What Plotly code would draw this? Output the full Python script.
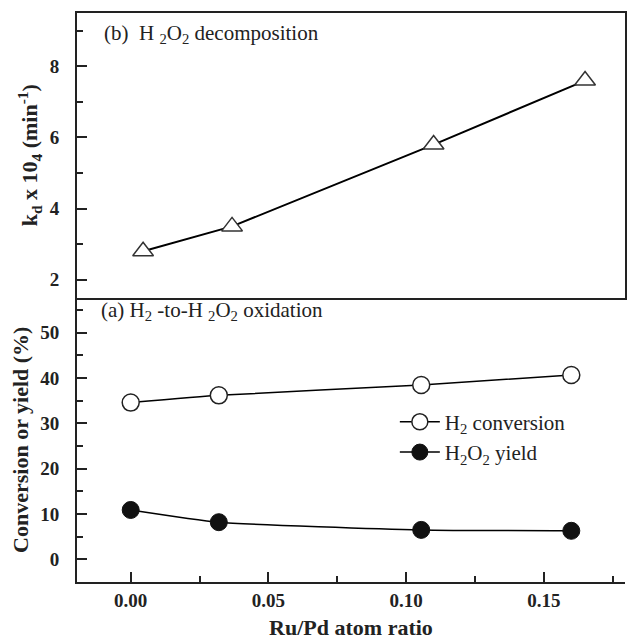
import plotly.graph_objects as go

# Data
kd_x = [0.0045, 0.0368, 0.110, 0.165]
kd_y = [2.8, 3.5, 5.8, 7.6]

conv_x = [0.000, 0.032, 0.1055, 0.160]
conv_y = [34.6, 36.2, 38.5, 40.7]

yield_x = [0.000, 0.032, 0.1055, 0.160]
yield_y = [10.9, 8.2, 6.5, 6.3]

x_ticks = [0, 0.05, 0.10, 0.15]
x_ticklabels = ["0.00", "0.05", "0.10", "0.15"]
y_ticks = [0, 10, 20, 30, 40, 50]
y2_ticks = [2, 4, 6, 8]

FONT = "Liberation Serif"
INK = "#222"

fig = go.Figure()

fig.add_trace(go.Scatter(
    x=kd_x, y=kd_y, xaxis="x2", yaxis="y2", mode="lines+markers",
    line=dict(color="black", width=2),
    marker=dict(symbol="triangle-up", size=18, color="white",
                line=dict(color="#333", width=1.5)),
    showlegend=False))

fig.add_trace(go.Scatter(
    x=conv_x, y=conv_y, xaxis="x", yaxis="y", mode="lines+markers",
    name="H<sub>2</sub> conversion",
    line=dict(color="black", width=1.5, shape="spline", smoothing=0.4),
    marker=dict(symbol="circle", size=17, color="white",
                line=dict(color=INK, width=1.5))))

fig.add_trace(go.Scatter(
    x=yield_x, y=yield_y, xaxis="x", yaxis="y", mode="lines+markers",
    name="H<sub>2</sub>O<sub>2</sub> yield",
    line=dict(color="black", width=1.5, shape="spline", smoothing=0.5),
    marker=dict(symbol="circle", size=17, color="#111",
                line=dict(color="#111", width=1))))

tickfont = dict(family=FONT, size=19, color=INK)
titlefont = dict(family=FONT, size=22, color=INK)
textfont = dict(family=FONT, size=21, color=INK)

def bold(vals):
    return ["<b>%s</b>" % v for v in vals]

fig.update_layout(
    width=627, height=640,
    margin=dict(l=77, r=0, t=13, b=57),
    paper_bgcolor="white", plot_bgcolor="white",
    font=dict(family=FONT, color=INK),
    xaxis=dict(domain=[0, 1], anchor="y", range=[-0.0195, 0.1795],
               tickvals=x_ticks, ticktext=bold(x_ticklabels),
               ticks="inside", ticklen=10, tickwidth=2, tickcolor=INK,
               minor=dict(tickvals=[0.025, 0.075, 0.125, 0.175], ticks="inside",
                          ticklen=6, tickwidth=2, tickcolor=INK),
               showline=True, linewidth=2, linecolor=INK, showgrid=False, zeroline=False,
               tickfont=tickfont, ticklabelstandoff=0,
               title=dict(text="<b>Ru/Pd atom ratio</b>", font=titlefont, standoff=14)),
    yaxis=dict(domain=[0, 0.5], anchor="x", range=[-5, 57.8],
               tickvals=y_ticks, ticktext=bold(y_ticks),
               ticks="inside", ticklen=10, tickwidth=2, tickcolor=INK,
               minor=dict(tickvals=[5, 15, 25, 35, 45, 55], ticks="inside",
                          ticklen=6, tickwidth=2, tickcolor=INK),
               showline=True, linewidth=2, linecolor=INK, showgrid=False, zeroline=False,
               tickfont=tickfont, ticklabelstandoff=12,
               title=dict(text="<b>Conversion or yield (%)</b>", font=titlefont, standoff=6)),
    xaxis2=dict(domain=[0, 1], anchor="y2", matches="x", range=[-0.0195, 0.1795],
                showticklabels=False, ticks="",
                showline=True, linewidth=2, linecolor=INK, mirror=True,
                showgrid=False, zeroline=False),
    yaxis2=dict(domain=[0.5, 1], anchor="x2", range=[1.5, 9.5],
                tickvals=y2_ticks, ticktext=bold(y2_ticks),
                ticks="inside", ticklen=10, tickwidth=2, tickcolor=INK,
                minor=dict(tickvals=[3, 5, 7, 9], ticks="inside",
                           ticklen=6, tickwidth=2, tickcolor=INK),
                showline=True, linewidth=2, linecolor=INK, mirror=True,
                showgrid=False, zeroline=False,
                tickfont=tickfont, ticklabelstandoff=12,
                title=dict(text="<b>k<sub>d</sub> x 10<sub>4</sub> (min<sup>-1</sup>)</b>",
                           font=titlefont, standoff=6)),
    legend=dict(x=0.58, y=0.317, xanchor="left", yanchor="top",
                bgcolor="rgba(0,0,0,0)", font=textfont,
                tracegroupgap=0, itemwidth=40),
    annotations=[
        dict(text="(b)  H <sub>2</sub>O<sub>2</sub> decomposition", xref="paper", yref="paper",
             x=0.045, y=0.99, xanchor="left", yanchor="top", showarrow=False,
             font=textfont),
        dict(text="(a) H<sub>2</sub> -to-H <sub>2</sub>O<sub>2</sub> oxidation", xref="paper", yref="paper",
             x=0.04, y=0.503, xanchor="left", yanchor="top", showarrow=False,
             font=textfont),
    ],
)

fig.write_html("out.html")
